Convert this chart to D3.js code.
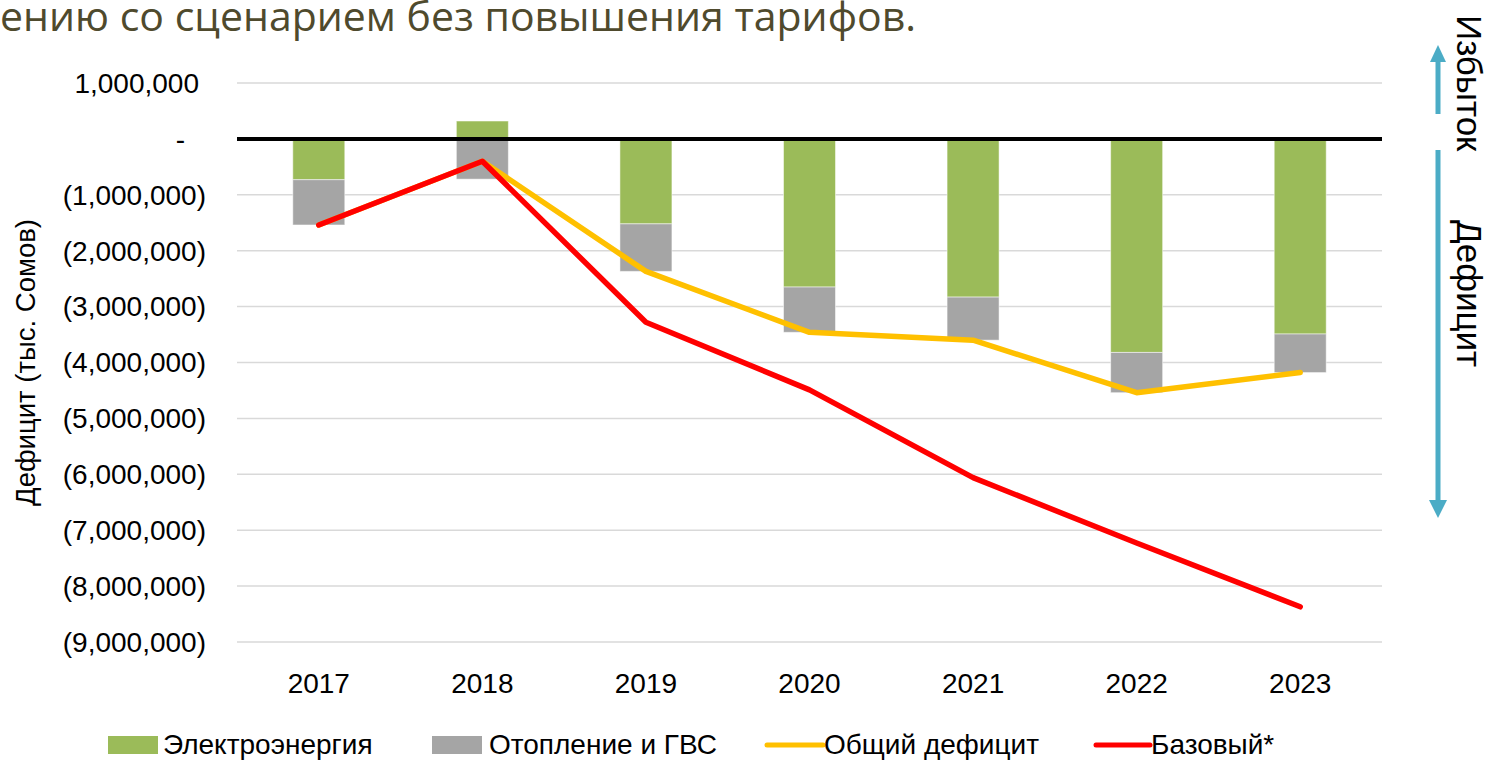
<!DOCTYPE html>
<html>
<head>
<meta charset="utf-8">
<script src="https://cdn.jsdelivr.net/npm/d3@7"></script>
<style>
  html, body { margin: 0; padding: 0; background: #fff; }
  svg { display: block; }
</style>
</head>
<body>
<svg id="chart" width="1490" height="760"></svg>
<script>
// ---- data (тыс. сомов) ----
const years = ["2017", "2018", "2019", "2020", "2021", "2022", "2023"];
const electricity = [-730000, 320000, -1520000, -2650000, -2830000, -3820000, -3490000];
const heating = [-810000, -720000, -850000, -810000, -770000, -720000, -690000];
const totalDeficit = [-1540000, -400000, -2370000, -3460000, -3600000, -4540000, -4180000];
const baseScenario = [-1540000, -400000, -3280000, -4490000, -6060000, -7230000, -8370000];
const yTicks = [1000000, 0, -1000000, -2000000, -3000000, -4000000, -5000000, -6000000, -7000000, -8000000, -9000000];
const legendLabels = ["Электроэнергия", "Отопление и ГВС", "Общий дефицит", "Базовый*"];
const titleText = "ению со сценарием без повышения тарифов.";
const yAxisTitle = "Дефицит (тыс. Сомов)";
const sideLabels = ["Избыток", "Дефицит"];

const colors = { elec: "#9BBB59", heat: "#A5A5A5", total: "#FFC000", base: "#FF0000", arrow: "#4BACC6", grid: "#D9D9D9", title: "#4F4A2D" };
const font = "'Liberation Sans', Arial, sans-serif";

const svg = d3.select("#chart");
const plotLeft = 237, plotRight = 1382, plotTop = 83, plotBottom = 642;

const xc = d3.scaleBand().domain(years).range([plotLeft, plotRight]);
const y = d3.scaleLinear().domain([-9000000, 1000000]).range([plotBottom, plotTop]);

// title (fragment of a slide title, partly outside the picture in the original)
svg.append("text").attr("x", 0).attr("y", 31)
  .attr("font-family", "'Open Sans', sans-serif").attr("font-size", 41)
  .attr("fill", colors.title).text(titleText);

// gridlines
svg.append("g").selectAll("line").data(yTicks.filter(d => d !== 0)).join("line")
  .attr("x1", plotLeft).attr("x2", plotRight)
  .attr("y1", d => y(d)).attr("y2", d => y(d))
  .attr("stroke", colors.grid).attr("stroke-width", 1.5);

// y tick labels (accounting format)
const fmt = d3.format(",");
svg.append("g").selectAll("text").data(yTicks).join("text")
  .attr("x", d => d > 0 ? 199 : (d === 0 ? 185 : 206))
  .attr("y", d => y(d))
  .attr("dy", "0.35em")
  .attr("text-anchor", "end")
  .attr("font-family", font).attr("font-size", 28).attr("fill", "#000")
  .text(d => d === 0 ? "-" : (d < 0 ? "(" + fmt(-d) + ")" : fmt(d)));

// x labels
svg.append("g").selectAll("text").data(years).join("text")
  .attr("x", d => xc(d) + xc.bandwidth() / 2)
  .attr("y", 693)
  .attr("text-anchor", "middle")
  .attr("font-family", font).attr("font-size", 28).attr("fill", "#000")
  .text(d => d);

// stacked bars (diverging stack)
const bw = 52;
const barG = svg.append("g");
years.forEach((yr, i) => {
  const cx = xc(yr) + xc.bandwidth() / 2;
  let pos = 0, neg = 0;
  [[electricity[i], colors.elec], [heating[i], colors.heat]].forEach(([v, c]) => {
    let y0, y1;
    if (v >= 0) { y0 = pos; y1 = pos + v; pos = y1; }
    else { y0 = neg; y1 = neg + v; neg = y1; }
    barG.append("rect")
      .attr("x", cx - bw / 2).attr("width", bw)
      .attr("y", y(Math.max(y0, y1)))
      .attr("height", Math.abs(y(y0) - y(y1)))
      .attr("fill", c).attr("stroke", "#ffffff").attr("stroke-opacity", 0.5).attr("stroke-width", 1);
  });
});

// zero line
svg.append("line").attr("x1", plotLeft).attr("x2", plotRight)
  .attr("y1", y(0)).attr("y2", y(0))
  .attr("stroke", "#000").attr("stroke-width", 4);

// lines
const line = d3.line().x((d, i) => xc(years[i]) + xc.bandwidth() / 2).y(d => y(d));
svg.append("path").datum(totalDeficit).attr("d", line)
  .attr("fill", "none").attr("stroke", colors.total).attr("stroke-width", 5.5)
  .attr("stroke-linejoin", "round").attr("stroke-linecap", "round");
svg.append("path").datum(baseScenario).attr("d", line)
  .attr("fill", "none").attr("stroke", colors.base).attr("stroke-width", 5.5)
  .attr("stroke-linejoin", "round").attr("stroke-linecap", "round");

// y axis title
svg.append("text")
  .attr("transform", `translate(35, ${(plotTop + plotBottom) / 2}) rotate(-90)`)
  .attr("text-anchor", "middle")
  .attr("font-family", font).attr("font-size", 27.5).attr("fill", "#000")
  .text(yAxisTitle);

// right side labels and arrows
svg.append("text")
  .attr("transform", "translate(1457, 15) rotate(90)")
  .attr("text-anchor", "start")
  .attr("font-family", font).attr("font-size", 35).attr("fill", "#000")
  .text(sideLabels[0]);
svg.append("text")
  .attr("transform", "translate(1457, 220) rotate(90)")
  .attr("text-anchor", "start")
  .attr("font-family", font).attr("font-size", 35).attr("fill", "#000")
  .text(sideLabels[1]);

const ax = 1438;
// up arrow
svg.append("line").attr("x1", ax).attr("x2", ax).attr("y1", 114).attr("y2", 60)
  .attr("stroke", colors.arrow).attr("stroke-width", 5);
svg.append("path").attr("d", `M${ax},45 L${ax - 8},62 L${ax + 8},62 Z`).attr("fill", colors.arrow);
// down arrow
svg.append("line").attr("x1", ax).attr("x2", ax).attr("y1", 150).attr("y2", 502)
  .attr("stroke", colors.arrow).attr("stroke-width", 5);
svg.append("path").attr("d", `M${ax},518 L${ax - 9},500 L${ax + 9},500 Z`).attr("fill", colors.arrow);

// legend
const lg = svg.append("g").attr("font-family", font).attr("font-size", 28).attr("fill", "#000");
const legendY = 744;
lg.append("rect").attr("x", 108).attr("y", legendY - 8).attr("width", 50).attr("height", 18).attr("fill", colors.elec);
lg.append("text").attr("x", 163).attr("y", legendY).attr("dy", "0.35em").text(legendLabels[0]);
lg.append("rect").attr("x", 432).attr("y", legendY - 8).attr("width", 50).attr("height", 18).attr("fill", colors.heat);
lg.append("text").attr("x", 489).attr("y", legendY).attr("dy", "0.35em").text(legendLabels[1]);
lg.append("line").attr("x1", 767).attr("x2", 823).attr("y1", legendY + 1).attr("y2", legendY + 1)
  .attr("stroke", colors.total).attr("stroke-width", 5).attr("stroke-linecap", "round");
lg.append("text").attr("x", 824).attr("y", legendY).attr("dy", "0.35em").text(legendLabels[2]);
lg.append("line").attr("x1", 1096).attr("x2", 1150).attr("y1", legendY + 1).attr("y2", legendY + 1)
  .attr("stroke", colors.base).attr("stroke-width", 5).attr("stroke-linecap", "round");
lg.append("text").attr("x", 1151).attr("y", legendY).attr("dy", "0.35em").text(legendLabels[3]);
</script>
</body>
</html>
